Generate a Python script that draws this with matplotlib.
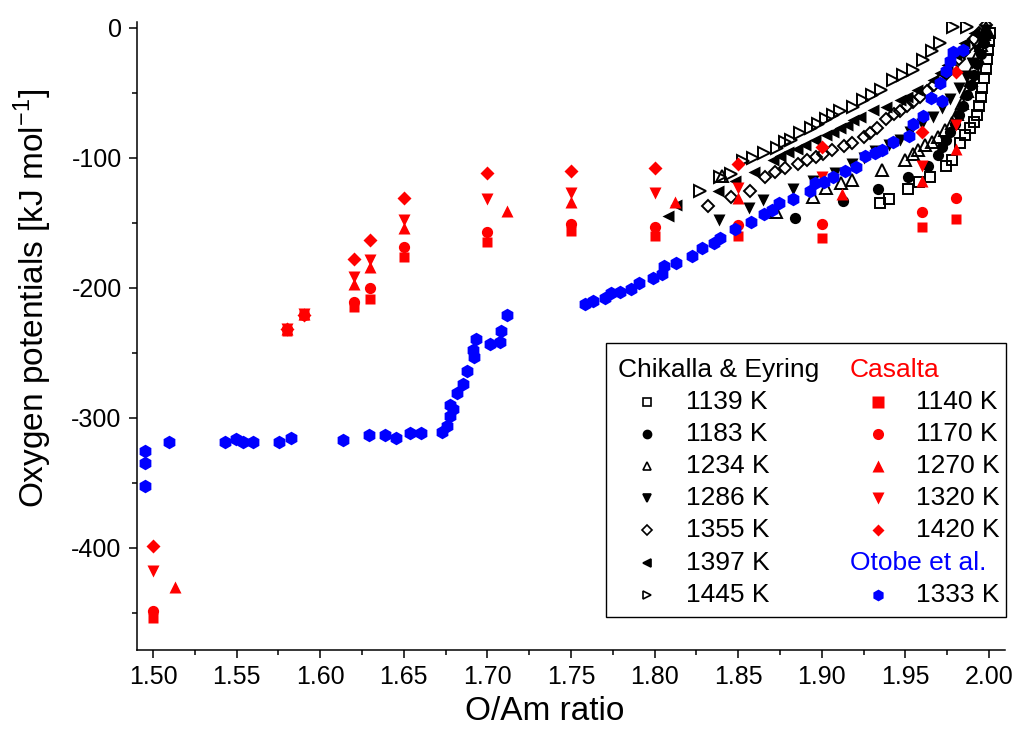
import matplotlib
matplotlib.use("Agg")
import matplotlib.pyplot as plt
from matplotlib.lines import Line2D
from matplotlib.patches import Rectangle
from matplotlib.ticker import MultipleLocator

plt.rcParams['font.family'] = ['Liberation Sans', 'DejaVu Sans']
plt.rcParams['mathtext.fontset'] = 'custom'
plt.rcParams['mathtext.rm'] = 'Liberation Sans'

# ---------------------------------------------------------
# Chikalla & Eyring (black markers)
# ---------------------------------------------------------
ce_1139_x = [1.9348, 1.9403, 1.9513, 1.958, 1.965, 1.9743, 1.9777, 1.9826, 1.9856, 1.9886, 1.991,
             1.9926, 1.994, 1.995, 1.996, 1.997, 1.998, 1.999, 1.9995, 2.0, 2.0006]
ce_1139_y = [-135, -132, -124, -119, -114.6, -106.4, -101.8, -88.5, -82.5, -77.4, -72.3,
             -67.2, -60, -53, -46, -39, -32, -24, -17, -10, -4]
ce_1183_x = [1.8842, 1.9127, 1.9334, 1.9518, 1.9637, 1.9697, 1.972, 1.9745, 1.977, 1.9795,
             1.982, 1.9845, 1.987, 1.989, 1.991, 1.993, 1.995, 1.997, 1.998]
ce_1183_y = [-146, -133, -124, -114.6, -106.4, -98, -92, -86, -80, -74,
             -67, -60, -52, -44, -36, -28, -20, -12, -5]
ce_1234_x = [1.8401, 1.8726, 1.895, 1.9025, 1.9113, 1.918, 1.9363, 1.9496, 1.9547, 1.9577,
             1.9617, 1.9657, 1.9697, 1.9737, 1.9777, 1.981, 1.984, 1.987, 1.989, 1.991,
             1.993, 1.995, 1.997, 1.9985]
ce_1234_y = [-114, -141.5, -130, -123.5, -119.7, -117, -109.5, -101.8, -97, -94,
             -90, -87.7, -84, -78.7, -73.5, -66, -58, -49, -40, -31,
             -22, -13, -5, 0]
ce_1286_x = [1.8387, 1.8567, 1.865, 1.8826, 1.895, 1.908, 1.918, 1.925, 1.932, 1.94,
             1.9467, 1.953, 1.96, 1.9666, 1.972, 1.977, 1.982, 1.986, 1.99, 1.993,
             1.996, 1.998]
ce_1286_y = [-148, -139, -132.5, -124.3, -118, -111.5, -105, -100, -95, -90,
             -86.4, -80, -74, -68.5, -62, -55, -46, -37, -27, -17,
             -8, -2]
ce_1355_x = [1.832, 1.846, 1.857, 1.866, 1.872, 1.878, 1.886, 1.891, 1.8966, 1.901,
             1.906, 1.913, 1.918, 1.925, 1.929, 1.9328, 1.9387, 1.943, 1.9467, 1.951,
             1.9547, 1.959, 1.963, 1.967, 1.971, 1.975, 1.978, 1.982, 1.985, 1.988,
             1.991, 1.994, 1.9985]
ce_1355_y = [-137, -130, -125.4, -115, -111, -108, -105, -102, -99.7, -97,
             -94, -91, -89, -84.3, -81, -77.4, -70, -66, -64, -60,
             -57, -53, -49, -44, -40, -35, -30, -24, -19, -14,
             -9, -4, 2]
ce_1397_x = [1.8082, 1.813, 1.838, 1.848, 1.8597, 1.8706, 1.875, 1.880, 1.885, 1.890,
             1.896, 1.9028, 1.9068, 1.911, 1.9148, 1.9188, 1.9228, 1.9308, 1.9387, 1.9467,
             1.9507, 1.9567, 1.9666, 1.9707, 1.975, 1.98, 1.985, 1.991]
ce_1397_y = [-144.8, -136, -125.4, -118, -110.8, -101.8, -99, -95.4, -93, -90.2,
             -86, -82.5, -80, -77, -74.8, -71, -68.5, -63.3, -60.8, -55.6,
             -53, -48, -40.2, -35, -29, -21, -12, -4]
ce_1445_x = [1.827, 1.839, 1.8455, 1.853, 1.859, 1.8654, 1.8734, 1.878, 1.8814, 1.887,
             1.8934, 1.898, 1.9028, 1.907, 1.9109, 1.9188, 1.9248, 1.930, 1.9357, 1.9427,
             1.9487, 1.9547, 1.9607, 1.9657, 1.9707, 1.9787, 1.9866]
ce_1445_y = [-125.4, -114.6, -112.5, -102.5, -100, -96.6, -92.8, -87.7, -86.4, -81.2,
             -77.4, -74, -70, -67, -64, -60.8, -55.6, -52, -48, -40,
             -36, -32.5, -24.8, -18, -12, 0.8, 0.8]

# ---------------------------------------------------------
# Casalta (red filled markers)
# ---------------------------------------------------------
cas_x = [1.50, 1.58, 1.59, 1.62, 1.63, 1.65, 1.70, 1.75, 1.80, 1.85, 1.90, 1.96, 1.98]
cas_x_1270 = [1.513, 1.58, 1.59, 1.62, 1.63, 1.65, 1.712, 1.75, 1.812, 1.85, 1.912, 1.96, 1.98]
cas_1140_y = [-454, -233, -221, -215, -209, -176, -165, -156, -160, -160, -162, -153, -147]
cas_1170_y = [-449, -232, -221, -211, -200, -169, -157, -151, -153, -152, -151, -142, -131]
cas_1270_y = [-430, -232, -220, -197, -184, -154, -141, -134, -134, -131, -128, -118, -93]
cas_1320_y = [-418, -232, -220, -192, -179, -148, -132, -127, -127, -123, -115, -106, -75]
cas_1420_y = [-399, -232, -221, -178, -163, -131, -112, -110, -108, -105, -92, -80, -34]

# ---------------------------------------------------------
# Otobe et al. 1333 K (blue hexagons)
# ---------------------------------------------------------
oto_x = [1.4952, 1.4952, 1.4952, 1.5098, 1.543, 1.5496, 1.5536, 1.560, 1.5755, 1.5823,
         1.6138, 1.629, 1.6386, 1.6451, 1.6539, 1.6605, 1.6728, 1.6758, 1.6776, 1.6776,
         1.6796, 1.6816, 1.6852, 1.6876, 1.6921, 1.6911, 1.6932, 1.7016, 1.7075, 1.7081,
         1.7115, 1.7584, 1.763, 1.7703, 1.7737, 1.7793, 1.7859, 1.7907, 1.7992, 1.8042,
         1.8058, 1.8128, 1.8226, 1.8282, 1.8355, 1.839, 1.8481, 1.8575, 1.8654, 1.870,
         1.8746, 1.8826, 1.8929, 1.8959, 1.9013, 1.9069, 1.9139, 1.9205, 1.9258, 1.9318,
         1.9358, 1.9428, 1.9524, 1.9544, 1.9608, 1.9656, 1.9722, 1.971, 1.9743, 1.9767,
         1.9783, 1.9842]
oto_y = [-326, -335, -352.5, -319, -319, -316.6, -319, -319, -319, -315.4,
         -317, -313, -313, -315.4, -312, -312, -311, -306, -299, -290,
         -293, -281, -274, -264, -253.5, -248, -239.7, -243, -241.5, -233,
         -221, -212.5, -210, -207.7, -204.3, -203, -201, -196, -192.8, -189.5,
         -183.3, -181, -175.6, -169.7, -165.9, -162, -154.8, -149.2, -143.6, -140,
         -135, -132, -125.4, -119.7, -118.5, -115, -110, -107, -99, -96.6,
         -94, -88, -83.3, -74, -68, -54.3, -56, -42.3, -33.3, -25.4,
         -18.5, -17.2]

fig = plt.figure(figsize=(10.14, 7.4), dpi=100)
ax = fig.add_axes([137 / 1014, 1 - 650 / 740, 868 / 1014, 628 / 740])

ms = 8.5
open_kw = dict(linestyle='none', mfc='none', mec='black', mew=1.4)
fill_kw = dict(linestyle='none', mec='none')

ax.plot(ce_1139_x, ce_1139_y, marker='s', ms=ms * 0.85, **open_kw)
ax.plot(ce_1183_x, ce_1183_y, marker='o', ms=ms * 0.95, color='black', **fill_kw)
ax.plot(ce_1234_x, ce_1234_y, marker='^', ms=ms * 1.05, **open_kw)
ax.plot(ce_1286_x, ce_1286_y, marker='v', ms=ms * 1.05, color='black', **fill_kw)
ax.plot(ce_1355_x, ce_1355_y, marker='D', ms=ms * 0.7, **open_kw)
ax.plot(ce_1397_x, ce_1397_y, marker='<', ms=ms * 1.05, color='black', **fill_kw)
ax.plot(ce_1445_x, ce_1445_y, marker='>', ms=ms * 1.05, **open_kw)

red = '#ff0000'
ax.plot(cas_x, cas_1140_y, marker='s', ms=ms * 0.9, color=red, **fill_kw)
ax.plot(cas_x, cas_1170_y, marker='o', ms=ms * 0.95, color=red, **fill_kw)
ax.plot(cas_x_1270, cas_1270_y, marker='^', ms=ms * 1.1, color=red, **fill_kw)
ax.plot(cas_x, cas_1320_y, marker='v', ms=ms * 1.1, color=red, **fill_kw)
ax.plot(cas_x, cas_1420_y, marker='D', ms=ms * 0.8, color=red, **fill_kw)

blue = '#0000ff'
ax.plot(oto_x, oto_y, marker='h', ms=ms * 1.15, color=blue, **fill_kw)

ax.set_xlim(1.4904, 2.0096)
ax.set_ylim(-478.7, 4.4)
ax.xaxis.set_major_locator(MultipleLocator(0.05))
ax.xaxis.set_minor_locator(MultipleLocator(0.025))
ax.yaxis.set_major_locator(MultipleLocator(100))
ax.yaxis.set_minor_locator(MultipleLocator(50))
ax.xaxis.set_major_formatter(plt.FuncFormatter(lambda v, p: f"{v:.2f}"))
ax.yaxis.set_major_formatter(plt.FuncFormatter(lambda v, p: f"{v:.0f}" if abs(v) > 1e-9 else "0"))
for s in ['top', 'right']:
    ax.spines[s].set_visible(False)
for s in ['left', 'bottom']:
    ax.spines[s].set_linewidth(1.1)
ax.tick_params(which='major', direction='out', length=6, width=1.1, labelsize=18)
ax.tick_params(which='minor', direction='out', length=3.5, width=1.1)
ax.tick_params(axis='x', pad=5)
ax.tick_params(axis='y', pad=5)

fig.text(545 / 1014, 1 - 712 / 740, 'O/Am ratio', ha='center', va='center', fontsize=24)
fig.text(33 / 1014, 1 - 298 / 740, r'Oxygen potentials [kJ mol$^{\mathregular{-1}}$]', ha='center',
         va='center', rotation=90, fontsize=24)

# ---------------------------------------------------------
# Legend (two columns with group headers)
# ---------------------------------------------------------
def fx(px):
    return px / 1014

def fy(py):
    return 1 - py / 740

fig.patches.append(Rectangle((fx(606), fy(617)), fx(1006) - fx(606), fy(343) - fy(617),
                             transform=fig.transFigure, fill=False, edgecolor='black', lw=1.0))

rows = [370, 402, 434, 466, 498, 530, 563, 595]
ce_labels = ['1139 K', '1183 K', '1234 K', '1286 K', '1355 K', '1397 K', '1445 K']
ce_markers = [('s', False), ('o', True), ('^', False), ('v', True), ('D', False), ('<', True), ('>', False)]
cas_labels = ['1140 K', '1170 K', '1270 K', '1320 K', '1420 K']
cas_markers = ['s', 'o', '^', 'v', 'D']
lfs = 19

fig.text(fx(618), fy(rows[0]), 'Chikalla & Eyring', ha='left', va='center', fontsize=lfs)
for i, (lab, (m, filled)) in enumerate(zip(ce_labels, ce_markers)):
    y = fy(rows[i + 1])
    fig.lines.append(Line2D([fx(647)], [y], transform=fig.transFigure, marker=m,
                            ms=4.8 if m == 'D' else 5.8,
                            mfc='black' if filled else 'none', mec='black', mew=1.2, linestyle='none'))
    fig.text(fx(686), y, lab, ha='left', va='center', fontsize=lfs)

fig.text(fx(850), fy(rows[0]), 'Casalta', ha='left', va='center', fontsize=lfs, color=red)
for i, (lab, m) in enumerate(zip(cas_labels, cas_markers)):
    y = fy(rows[i + 1])
    fig.lines.append(Line2D([fx(878)], [y], transform=fig.transFigure, marker=m,
                            ms=6.5 if m == 'D' else 8.0, color=red, mec='none', linestyle='none'))
    fig.text(fx(916), y, lab, ha='left', va='center', fontsize=lfs)
fig.text(fx(850), fy(rows[6]), 'Otobe et al.', ha='left', va='center', fontsize=lfs, color=blue)
fig.lines.append(Line2D([fx(878)], [fy(rows[7])], transform=fig.transFigure, marker='h', ms=8.5,
                        color=blue, mec='none', linestyle='none'))
fig.text(fx(916), fy(rows[7]), '1333 K', ha='left', va='center', fontsize=lfs)

fig.savefig('out.png', dpi=100)
